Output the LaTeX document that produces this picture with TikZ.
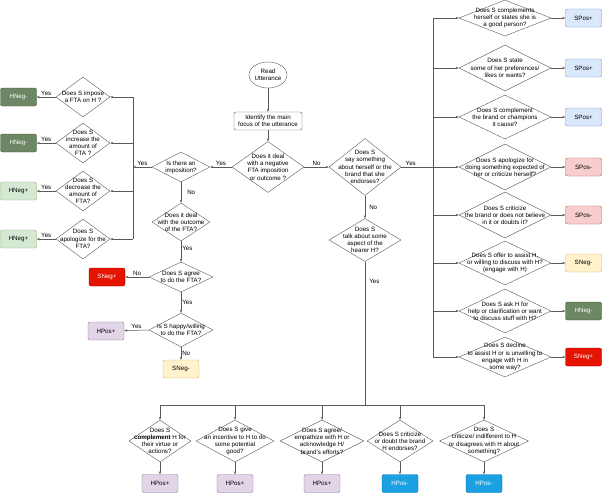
\documentclass[tikz,border=0pt]{standalone}
\usepackage{fontspec}
\setmainfont{Liberation Sans}
\usepackage{tikz}
\usetikzlibrary{shapes.geometric,arrows.meta}
\definecolor{hnegdark}{HTML}{6D8764}
\definecolor{hnegdarkline}{HTML}{3A5431}
\definecolor{hneglight}{HTML}{D5E8D4}
\definecolor{hneglightline}{HTML}{82B366}
\definecolor{snegred}{HTML}{E51400}
\definecolor{snegredline}{HTML}{B20000}
\definecolor{snegyellow}{HTML}{FFF2CC}
\definecolor{snegyellowline}{HTML}{D6B656}
\definecolor{hposlilac}{HTML}{E1D5E7}
\definecolor{hposlilacline}{HTML}{9673A6}
\definecolor{hposblue}{HTML}{1BA1E2}
\definecolor{hposblueline}{HTML}{006EAF}
\definecolor{sposblue}{HTML}{DAE8FC}
\definecolor{sposblueline}{HTML}{6C8EBF}
\definecolor{sposred}{HTML}{F8CECC}
\definecolor{sposredline}{HTML}{B85450}
\begin{document}
\begin{tikzpicture}[x=1pt, y=-1pt,
  font=\fontsize{6.2}{7.2}\selectfont,
  dia/.style 2 args={diamond, draw=black!65, minimum width=#1pt, minimum height=#2pt, inner sep=0pt},
  qtext/.style={align=center, inner sep=0pt},
  outbox/.style={rectangle, rounded corners=2pt, minimum width=36pt, minimum height=18pt, inner sep=0pt},
  hnegm/.style={outbox, fill=hnegdark, draw=hnegdarkline, text=white},
  hnegp/.style={outbox, fill=hneglight, draw=hneglightline},
  snegp/.style={outbox, fill=snegred, draw=snegredline, text=white},
  snegm/.style={outbox, fill=snegyellow, draw=snegyellowline},
  hposp/.style={outbox, fill=hposlilac, draw=hposlilacline},
  hposm/.style={outbox, fill=hposblue, draw=hposblueline, text=white},
  sposp/.style={outbox, fill=sposblue, draw=sposblueline},
  sposm/.style={outbox, fill=sposred, draw=sposredline},
  conn/.style={draw=black!65, line width=0.5pt},
  arr/.style={conn, -{Stealth[length=3pt,width=2.4pt]}},
  lab/.style={inner sep=1pt}]
\useasboundingbox (0,0) rectangle (602,493);

\node[ellipse, draw=black!65, minimum width=30pt, minimum height=26pt, inner sep=0pt, align=center] (read) at (268,75) {Read\\Utterance};
\node[rectangle, rounded corners=2pt, draw=black!65, minimum width=68pt, minimum height=18pt, inner sep=0pt, align=center] (focus) at (268,121) {Identify the main\\focus of the utterance};
\node[dia={72}{51}, label={[qtext]center:Does it deal\\with a negative\\FTA imposition\\or outcome ?}] (deal) at (268,167) {};

\node[dia={58}{30}, label={[qtext]center:Is there an\\imposition?}] (impo) at (181,167) {};
\node[dia={58}{38}, label={[qtext]center:Does it deal\\with the outcome\\of the FTA?}] (outc) at (181,222) {};
\node[dia={64}{30}, label={[qtext]center:Does S agree\\to do the FTA?}] (agree) at (181,277) {};
\node[dia={64}{34}, label={[qtext]center:Is S happy/willing\\to do the FTA?}] (happy) at (181,330) {};
\node[snegp] (agreeno) at (107,277) {SNeg+};
\node[hposp] (happyyes) at (106,331) {HPos+};
\node[snegm] (happyno) at (181,369) {SNeg-};

\node[dia={54}{40}, label={[qtext]center:Does S impose\\a FTA on H ?}] (impose) at (83,97) {};
\node[dia={54}{40}, label={[qtext]center:Does S\\increase the\\amount of\\FTA ?}] (incr) at (83,143) {};
\node[dia={54}{40}, label={[qtext]center:Does S\\decrease the\\amount of\\FTA?}] (decr) at (83,191) {};
\node[dia={54}{40}, label={[qtext]center:Does S\\apologize for the\\FTA?}] (apol) at (83,239) {};
\node[hnegm] (imposeout) at (18.5,97) {HNeg-};
\node[hnegm] (incrout) at (18.5,143) {HNeg-};
\node[hnegp] (decrout) at (18.5,191) {HNeg+};
\node[hnegp] (apolout) at (18.5,239) {HNeg+};
\coordinate (lbus) at (133,167);

\node[dia={72}{57}, label={[qtext]center:Does S\\say something\\about herself or the\\brand that she\\endorses?}] (self) at (365,167) {};
\node[dia={72}{43}, label={[qtext]center:Does S\\talk about some\\aspect of the\\hearer H?}] (hear) at (365,240) {};
\coordinate (rbus) at (433,167);
\coordinate (bbus) at (365,405);

\node[dia={92}{36}, label={[qtext]center:Does S complements\\herself or states she is\\a good person?}] (sone) at (505,18) {};
\node[dia={92}{46}, label={[qtext]center:Does S state\\some of her preferences/\\likes or wants?}] (stwo) at (505,68) {};
\node[dia={92}{44}, label={[qtext]center:Does S complement\\the brand or champions\\it cause?}] (sthree) at (505,117) {};
\node[dia={92}{46}, label={[qtext]center:Does S apologize for\\doing something expected of\\her or criticize herself?}] (sfour) at (505,167) {};
\node[dia={92}{46}, label={[qtext]center:Does S criticize\\the brand or does not believe\\in it or doubts it?}] (sfive) at (505,215) {};
\node[dia={92}{44}, label={[qtext]center:Does S offer to assist H,\\or willing to discuss with H?\\(engage with H)}] (ssix) at (505,263) {};
\node[dia={92}{44}, label={[qtext]center:Does S ask H for\\help or clarification or want\\to discuss stuff with H?}] (sseven) at (505,311) {};
\node[dia={92}{40}, label={[qtext]center:Does S decline\\to assist H or is unwilling to\\engage with H in\\some way?}] (seight) at (505,357) {};
\node[sposp] (soneout) at (583.5,18) {SPos+};
\node[sposp] (stwoout) at (583.5,68) {SPos+};
\node[sposp] (sthreeout) at (583.5,117) {SPos+};
\node[sposm] (sfourout) at (583.5,167) {SPos-};
\node[sposm] (sfiveout) at (583.5,215) {SPos-};
\node[snegm] (ssixout) at (583.5,263) {SNeg-};
\node[hnegm] (ssevenout) at (583.5,311) {HNeg-};
\node[snegp] (seightout) at (583.5,357) {SNeg+};

\node[dia={62}{42}, label={[qtext]center:Does S\\\textbf{complement} H for\\their virtue or\\actions?}] (hone) at (160,441) {};
\node[dia={78}{42}, label={[qtext]center:Does S give\\an incentive to H to do\\some potential\\good?}] (htwo) at (235,441) {};
\node[dia={84}{42}, label={[qtext]center:Does S agree/\\empathize with H or\\acknowledge H/\\brand's efforts?}] (hthree) at (322,441) {};
\node[dia={66}{42}, label={[qtext]center:Does S criticize\\or doubt the brand\\H endorses?}] (hfour) at (400,441) {};
\node[dia={89}{42}, label={[qtext]center:Does S\\criticize/ indifferent to H\\or disagrees with H about\\something?}] (hfive) at (484,441) {};
\node[hposp] (honeout) at (160,483.5) {HPos+};
\node[hposp] (htwoout) at (235,483.5) {HPos+};
\node[hposp] (hthreeout) at (322,483.5) {HPos+};
\node[hposm] (hfourout) at (400,483.5) {HPos-};
\node[hposm] (hfiveout) at (484,483.5) {HPos-};

\draw[arr] (read) -- (focus);
\draw[arr] (focus) -- (deal);
\draw[arr] (deal.west) -- node[lab, above]{Yes} (impo.east);
\draw[arr] (deal.east) -- node[lab, above]{No} (self.west);

\draw[arr] (impo.west) -- node[lab, above]{Yes} (lbus);
\draw[conn] (impose.east -| lbus) -- (apol.east -| lbus);
\draw[arr] (impose.east -| lbus) -- (impose.east);
\draw[arr] (incr.east -| lbus) -- (incr.east);
\draw[arr] (decr.east -| lbus) -- (decr.east);
\draw[arr] (apol.east -| lbus) -- (apol.east);
\draw[arr] (impose.west) -- node[lab, above]{Yes} (imposeout);
\draw[arr] (incr.west) -- node[lab, above]{Yes} (incrout);
\draw[arr] (decr.west) -- node[lab, above]{Yes} (decrout);
\draw[arr] (apol.west) -- node[lab, above]{Yes} (apolout);

\draw[arr] (impo.south) -- node[lab, right=5pt]{No} (outc.north);
\draw[arr] (outc.south) -- node[lab, right, pos=.35]{Yes} (agree.north);
\draw[arr] (agree.west) -- node[lab, above]{No} (agreeno);
\draw[arr] (agree.south) -- node[lab, right]{Yes} (happy.north);
\draw[arr] (happy.west) -- node[lab, above]{Yes} (happyyes);
\draw[arr] (happy.south) -- node[lab, right]{No} (happyno);

\draw[conn] (self.east) -- node[lab, above, pos=.3]{Yes} (rbus);
\draw[conn] (sone.west -| rbus) -- (seight.west -| rbus);
\draw[arr] (sone.west -| rbus) -- (sone.west);
\draw[arr] (stwo.west -| rbus) -- (stwo.west);
\draw[arr] (sthree.west -| rbus) -- (sthree.west);
\draw[arr] (sfour.west -| rbus) -- (sfour.west);
\draw[arr] (sfive.west -| rbus) -- (sfive.west);
\draw[arr] (ssix.west -| rbus) -- (ssix.west);
\draw[arr] (sseven.west -| rbus) -- (sseven.west);
\draw[arr] (seight.west -| rbus) -- (seight.west);
\draw[arr] (sone.east) -- (soneout);
\draw[arr] (stwo.east) -- (stwoout);
\draw[arr] (sthree.east) -- (sthreeout);
\draw[arr] (sfour.east) -- (sfourout);
\draw[arr] (sfive.east) -- (sfiveout);
\draw[arr] (ssix.east) -- (ssixout);
\draw[arr] (sseven.east) -- (ssevenout);
\draw[arr] (seight.east) -- (seightout);

\draw[arr] (self.south) -- node[lab, right=3pt]{No} (hear.north);
\draw[conn] (hear.south) -- node[lab, right=3pt, pos=.14]{Yes} (bbus);
\draw[conn] (hone.north |- bbus) -- (hfive.north |- bbus);
\draw[arr] (hone.north |- bbus) -- (hone.north);
\draw[arr] (htwo.north |- bbus) -- (htwo.north);
\draw[arr] (hthree.north |- bbus) -- (hthree.north);
\draw[arr] (hfour.north |- bbus) -- (hfour.north);
\draw[arr] (hfive.north |- bbus) -- (hfive.north);
\draw[arr] (hone.south) -- (honeout);
\draw[arr] (htwo.south) -- (htwoout);
\draw[arr] (hthree.south) -- (hthreeout);
\draw[arr] (hfour.south) -- (hfourout);
\draw[arr] (hfive.south) -- (hfiveout);
\end{tikzpicture}
\end{document}
